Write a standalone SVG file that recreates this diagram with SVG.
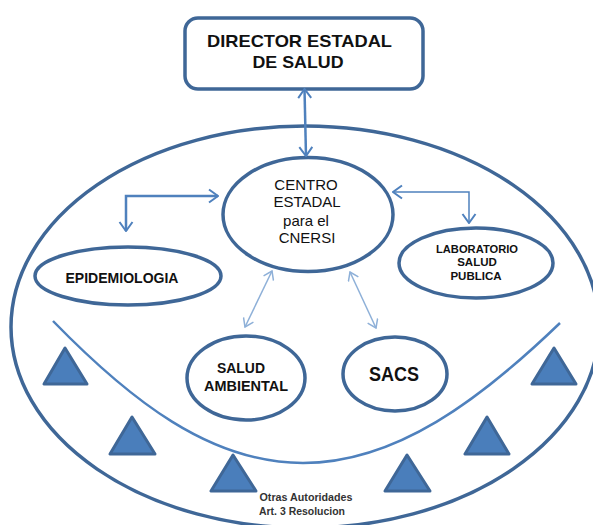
<svg xmlns="http://www.w3.org/2000/svg" width="593" height="525" viewBox="0 0 593 525">
<style>
.n{fill:#fff;stroke:#3f6797;stroke-width:3.500}
.t{fill:#4a7ebb;stroke:#3f6797;stroke-width:3;stroke-linejoin:round}
.c{fill:none;stroke:#4f81bd}
.l{stroke:#8eb0d8}
text{font-family:"Liberation Sans",Arial,sans-serif;fill:#111;text-anchor:middle}
.b{font-weight:bold}
</style>
<defs>
<marker id="a" viewBox="0 0 14 16" refX="13" refY="8" markerWidth="14" markerHeight="16" markerUnits="userSpaceOnUse" orient="auto-start-reverse"><path d="M4 1.500L13 8L4 14.500" fill="none" stroke="#4f81bd" stroke-width="2"/></marker>
<marker id="d" viewBox="0 0 12 12" refX="11" refY="6" markerWidth="12" markerHeight="12" markerUnits="userSpaceOnUse" orient="auto-start-reverse"><path d="M3 .5L11 6L3 11.500" fill="none" stroke="#8eb0d8" stroke-width="1.500"/></marker>
</defs>
<g id="outer"><ellipse class="n" cx="305" cy="327" rx="294" ry="201"/></g>
<g id="director"><rect class="n" x="185" y="18" width="238" height="71" rx="13"/>
<text class="b" x="299.500" y="47" font-size="17" textLength="185" lengthAdjust="spacingAndGlyphs">DIRECTOR ESTADAL</text>
<text class="b" x="298" y="68" font-size="17" textLength="91" lengthAdjust="spacingAndGlyphs">DE SALUD</text></g>
<g id="centro"><ellipse class="n" cx="308" cy="214.500" rx="85" ry="57"/>
<text x="306" y="190" font-size="15">CENTRO</text>
<text x="307" y="207" font-size="15">ESTADAL</text>
<text x="306" y="226" font-size="15">para el</text>
<text x="307" y="243" font-size="15">CNERSI</text></g>
<g id="epidemiologia"><ellipse class="n" cx="128" cy="276" rx="93" ry="29"/>
<text class="b" x="122" y="283" font-size="14" textLength="113" lengthAdjust="spacingAndGlyphs">EPIDEMIOLOGIA</text></g>
<g id="laboratorio"><ellipse class="n" cx="476" cy="263" rx="77" ry="35"/>
<text class="b" x="477" y="253" font-size="11.500" textLength="82" lengthAdjust="spacingAndGlyphs">LABORATORIO</text>
<text class="b" x="477" y="266" font-size="11.500">SALUD</text>
<text class="b" x="476" y="280" font-size="11.500">PUBLICA</text></g>
<g id="ambiental"><ellipse class="n" cx="246" cy="378" rx="59" ry="42"/>
<text class="b" x="241" y="373" font-size="14" textLength="48" lengthAdjust="spacingAndGlyphs">SALUD</text>
<text class="b" x="246" y="391" font-size="14" textLength="84" lengthAdjust="spacingAndGlyphs">AMBIENTAL</text></g>
<g id="sacs"><ellipse class="n" cx="395" cy="374" rx="52" ry="37"/>
<text class="b" x="394" y="381" font-size="20" textLength="50" lengthAdjust="spacingAndGlyphs">SACS</text></g>
<g id="autoridades">
<path class="t" d="M65 348L44 384H87Z"/>
<path class="t" d="M132 417L110 454H155Z"/>
<path class="t" d="M233 455L211 491H256Z"/>
<path class="t" d="M407 455L385 491H430Z"/>
<path class="t" d="M487 417L465 454H509Z"/>
<path class="t" d="M554 348L532 384H576Z"/>
<text class="b" x="306" y="501" font-size="10" style="fill:#333" textLength="93" lengthAdjust="spacingAndGlyphs">Otras Autoridades</text>
<text class="b" x="302" y="515" font-size="10" style="fill:#333" textLength="86" lengthAdjust="spacingAndGlyphs">Art. 3 Resolucion</text></g>
<g id="connectors">
<path class="c" stroke-width="2.500" d="M53 321C130 400 210 463 303 463S480 400 560 323"/>
<path class="c" stroke-width="2.500" d="M304.500 89L306 156" marker-start="url(#a)" marker-end="url(#a)"/>
<path class="c" stroke-width="2.500" d="M126 231V196H218" marker-start="url(#a)" marker-end="url(#a)"/>
<path class="c" stroke-width="1.500" d="M393 192H469V223" marker-start="url(#a)" marker-end="url(#a)"/>
<path class="c l" stroke-width="1.500" d="M272 271L245 327" marker-start="url(#d)" marker-end="url(#d)"/>
<path class="c l" stroke-width="1.500" d="M350 272L376 328" marker-start="url(#d)" marker-end="url(#d)"/>
</g>
</svg>
